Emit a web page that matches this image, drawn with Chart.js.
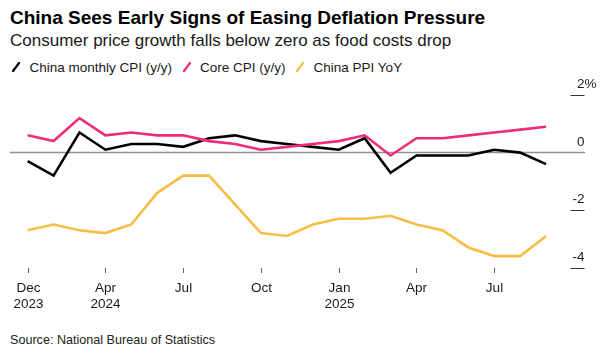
<!DOCTYPE html>
<html>
<head>
<meta charset="utf-8">
<script src="https://cdn.jsdelivr.net/npm/chart.js@4"></script>
<style>
  html, body { margin:0; padding:0; background:#fff; }
  body { width:605px; height:353px; position:relative; overflow:hidden; font-family:"Liberation Sans", Arial, sans-serif; }
  .txt { position:absolute; left:10px; white-space:nowrap; line-height:1; }
  #title { top:8.4px; font-size:19px; font-weight:bold; color:#000; }
  #subtitle { top:32.1px; font-size:17px; color:#1a1a1a; }
  #legend { top:60.6px; font-size:13.5px; color:#1a1a1a; display:flex; }
  #legend .item { display:flex; align-items:flex-start; margin-right:8.5px; }
  #legend svg { margin:1px 9.5px 0 2px; }
  #source { top:334.4px; font-size:12.6px; color:#222; }
  #wrap { position:absolute; left:0; top:0; width:605px; height:353px; }
</style>
</head>
<body>
<div id="title" class="txt">China Sees Early Signs of Easing Deflation Pressure</div>
<div id="subtitle" class="txt">Consumer price growth falls below zero as food costs drop</div>
<div id="legend" class="txt"></div>
<div id="source" class="txt">Source: National Bureau of Statistics</div>
<div id="wrap"><canvas id="c"></canvas></div>
<script>
// monthly, Dec 2023 .. Aug 2025
const months = ['Dec 2023','Jan 2024','Feb 2024','Mar 2024','Apr 2024','May 2024','Jun 2024','Jul 2024','Aug 2024','Sep 2024','Oct 2024','Nov 2024',
                'Dec 2024','Jan 2025','Feb 2025','Mar 2025','Apr 2025','May 2025','Jun 2025','Jul 2025','Aug 2025'];
const cpi  = [-0.3,-0.8, 0.7, 0.1, 0.3, 0.3, 0.2, 0.5, 0.6, 0.4, 0.3, 0.2, 0.1, 0.5,-0.7,-0.1,-0.1,-0.1, 0.1, 0.0,-0.4];
const core = [ 0.6, 0.4, 1.2, 0.6, 0.7, 0.6, 0.6, 0.4, 0.3, 0.1, 0.2, 0.3, 0.4, 0.6,-0.1, 0.5, 0.5, 0.6, 0.7, 0.8, 0.9];
const ppi  = [-2.7,-2.5,-2.7,-2.8,-2.5,-1.4,-0.8,-0.8,-1.8,-2.8,-2.9,-2.5,-2.3,-2.3,-2.2,-2.5,-2.7,-3.3,-3.6,-3.6,-2.9];

// x tick positions (month index) and their labels
const xTickIdx    = [0, 3, 6, 9, 12, 15, 18];
const xTickLabels = [['Dec','2023'],['Apr','2024'],['Jul'],['Oct'],['Jan','2025'],['Apr'],['Jul']];
const yTicks = [2, 0, -2, -4];

const series = [
  { label:'China monthly CPI (y/y)', data:cpi,  color:'#000000' },
  { label:'Core CPI (y/y)',          data:core, color:'#ee2c7c' },
  { label:'China PPI YoY',           data:ppi,  color:'#f8bd45' },
];

// legend
const legendEl = document.getElementById('legend');
legendEl.innerHTML = series.map(s => `
  <div class="item">
    <svg width="8" height="10" viewBox="0 0 8 10"><line x1="1" y1="9" x2="7" y2="1" stroke="${s.color}" stroke-width="2.2" stroke-linecap="round"/></svg>
    <span>${s.label}</span>
  </div>`).join('');

const FONT = '13.5px "Liberation Sans", Arial, sans-serif';

const axisPlugin = {
  id: 'axisPlugin',
  beforeDatasetsDraw(chart) {
    const {ctx, chartArea, scales:{y}} = chart;
    ctx.save();
    // zero line
    ctx.strokeStyle = '#8f8f8f';
    ctx.lineWidth = 1.5;
    ctx.beginPath();
    ctx.moveTo(chartArea.left, y.getPixelForValue(0));
    ctx.lineTo(chartArea.right, y.getPixelForValue(0));
    ctx.stroke();
    ctx.restore();
  },
  afterDraw(chart) {
    const {ctx, chartArea, scales:{x, y}} = chart;
    ctx.save();
    ctx.font = FONT;
    // x ticks
    xTickIdx.forEach((i, k) => {
      const px = Math.round(x.getPixelForValue(i)) + 0.5;
      ctx.strokeStyle = '#666';
      ctx.lineWidth = 1;
      ctx.beginPath();
      ctx.moveTo(px, 268);
      ctx.lineTo(px, 273);
      ctx.stroke();
      ctx.fillStyle = '#1a1a1a';
      ctx.textAlign = 'center';
      ctx.textBaseline = 'alphabetic';
      xTickLabels[k].forEach((t, j) => ctx.fillText(t, px, 291.5 + j * 16.5));
    });
    // y ticks on the right
    const right = chartArea.right - 0.5;
    yTicks.forEach(v => {
      const py = y.getPixelForValue(v);
      if (v !== 0) {
        ctx.strokeStyle = '#333';
        ctx.lineWidth = 1;
        ctx.beginPath();
        ctx.moveTo(right - 14, Math.round(py) + 0.5);
        ctx.lineTo(right, Math.round(py) + 0.5);
        ctx.stroke();
      }
      ctx.fillStyle = '#1a1a1a';
      ctx.textBaseline = 'alphabetic';
      ctx.textAlign = 'right';
      const num = v < 0 ? '-' + Math.abs(v) : String(v);
      ctx.fillText(num, right, py - 7);
      if (v === 2) {
        ctx.textAlign = 'left';
        ctx.fillText('%', right, py - 7);
      }
    });
    ctx.restore();
  }
};

new Chart(document.getElementById('c'), {
  type: 'line',
  data: {
    datasets: series.map(s => ({
      label: s.label,
      data: s.data.map((v, i) => ({x:i, y:v})),
      borderColor: s.color,
      backgroundColor: s.color,
      borderWidth: 2.6,
      pointRadius: 0,
      tension: 0,
      fill: false,
    })).reverse(),
  },
  options: {
    responsive: true,
    maintainAspectRatio: false,
    animation: false,
    events: [],
    layout: { padding: { left:10, right:20, top:83.6, bottom:76.8 } },
    plugins: { legend:{display:false}, tooltip:{enabled:false}, title:{display:false} },
    scales: {
      x: { type:'linear', min:-0.68, max:21.5, display:false },
      y: { type:'linear', min:-4.3, max:2.4, display:false },
    },
  },
  plugins: [axisPlugin],
});
</script>
</body>
</html>
